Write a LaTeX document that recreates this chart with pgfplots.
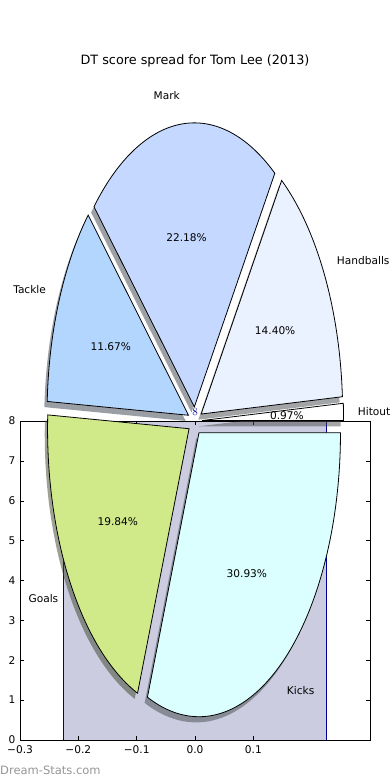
\documentclass[border=0pt]{standalone}
\usepackage{pgfplots}
\pgfplotsset{compat=1.18}
\usepackage{fontspec}
\setmainfont{DejaVu Sans}
\definecolor{cHit}{RGB}{255,255,255}
\definecolor{cHand}{RGB}{235,242,255}
\definecolor{cMark}{RGB}{197,216,255}
\definecolor{cTack}{RGB}{179,214,255}
\definecolor{cGoal}{RGB}{208,234,138}
\definecolor{cKick}{RGB}{219,255,255}
\definecolor{barfill}{RGB}{204,204,225}
\definecolor{baredge}{RGB}{0,0,150}
\definecolor{wm}{RGB}{150,150,150}
% pie data (percent of DT score)
\def\vHit{0.97}\def\vHand{14.40}\def\vMark{22.18}\def\vTack{11.67}\def\vGoal{19.84}\def\vKick{30.93}
\pgfmathsetmacro\tot{\vHit+\vHand+\vMark+\vTack+\vGoal+\vKick}
\pgfmathsetmacro\aA{0}
\pgfmathsetmacro\aB{\aA+360*\vHit/\tot}
\pgfmathsetmacro\aC{\aB+360*\vHand/\tot}
\pgfmathsetmacro\aD{\aC+360*\vMark/\tot}
\pgfmathsetmacro\aE{\aD+360*\vTack/\tot}
\pgfmathsetmacro\aF{\aE+360*\vGoal/\tot}
\pgfmathsetmacro\aG{\aF+360*\vKick/\tot}
\tikzset{pielabel/.style={font=\fontsize{10.6}{12}\selectfont, inner sep=0pt}}
\newcommand\drawshadow[3]{%
 \pgfmathsetmacro\wmid{(#1+#2)/2}%
 \pgfmathsetmacro\wx{0.05*cos(\wmid)-0.02}%
 \pgfmathsetmacro\wy{0.05*sin(\wmid)-0.02}%
 \edef\doit{\noexpand\addplot[draw=none,fill=#3!30!black,fill opacity=0.5,domain=#1:#2,samples=90,variable=\noexpand\t] ({\wx+cos(\noexpand\t)},{\wy+sin(\noexpand\t)}) -- (axis cs:\wx,\wy) -- cycle;}%
 \doit}
\newcommand\drawwedge[3]{%
 \pgfmathsetmacro\wmid{(#1+#2)/2}%
 \pgfmathsetmacro\wx{0.05*cos(\wmid)}%
 \pgfmathsetmacro\wy{0.05*sin(\wmid)}%
 \edef\doit{\noexpand\addplot[draw=black,line width=0.8pt,line join=miter,fill=#3,domain=#1:#2,samples=90,variable=\noexpand\t] ({\wx+cos(\noexpand\t)},{\wy+sin(\noexpand\t)}) -- (axis cs:\wx,\wy) -- cycle;}%
 \doit}
\newcommand\drawlabels[4]{%
 \pgfmathsetmacro\wmid{(#1+#2)/2}%
 \pgfmathsetmacro\lx{1.15*cos(\wmid)}%
 \pgfmathsetmacro\ly{1.15*sin(\wmid)}%
 \pgfmathsetmacro\qx{0.65*cos(\wmid)}%
 \pgfmathsetmacro\qy{0.65*sin(\wmid)}%
 \ifdim\lx pt>0pt \def\lanc{west}\else\def\lanc{east}\fi
 \edef\doit{\noexpand\node[pielabel,anchor=\lanc] at (axis cs:\lx,\ly) {\unexpanded{#3}}; \noexpand\node[pielabel] at (axis cs:\qx,\qy) {\unexpanded{#4}};}%
 \doit}
\pgfplotsset{baraxis/.style={at={(20pt,40pt)}, anchor=south west, scale only axis,
  width=350pt, height=319pt, xmin=-0.3, xmax=0.3, ymin=0, ymax=8}}
\begin{document}
\begin{tikzpicture}
\path[use as bounding box] (0pt,0pt) rectangle (390pt,780pt);
\begin{axis}[baraxis,
  xtick={-0.3,-0.2,-0.1,0,0.1}, xticklabels={−0.3,−0.2,−0.1,0.0,0.1},
  ytick={0,1,2,3,4,5,6,7,8}, yticklabels={0,1,2,3,4,5,6,7,8},
  tick label style={font=\fontsize{10.6}{12}\selectfont},
  xticklabel style={yshift=-2pt}, yticklabel style={xshift=-1pt},
  major tick length=4pt, tick style={black, line width=0.5pt},
  axis line style={line width=0.8pt},
  axis on top]
\addplot[ybar, bar width=0.45, fill=barfill, draw=baredge, line width=0.8pt]
  coordinates {(0,8)};
\end{axis}
\begin{axis}[at={(0pt,0pt)}, anchor=south west, scale only axis,
  width=390pt, height=780pt,
  xmin=-1.37809, xmax=1.37809, ymin=-1.26408, ymax=1.48239,
  hide axis, clip=false]
\drawshadow{\aA}{\aB}{cHit}
\drawshadow{\aB}{\aC}{cHand}
\drawshadow{\aC}{\aD}{cMark}
\drawshadow{\aD}{\aE}{cTack}
\drawshadow{\aE}{\aF}{cGoal}
\drawshadow{\aF}{\aG}{cKick}
\drawwedge{\aA}{\aB}{cHit}
\drawwedge{\aB}{\aC}{cHand}
\drawwedge{\aC}{\aD}{cMark}
\drawwedge{\aD}{\aE}{cTack}
\drawwedge{\aE}{\aF}{cGoal}
\drawwedge{\aF}{\aG}{cKick}
\drawlabels{\aA}{\aB}{Hitout}{0.97\%}
\drawlabels{\aB}{\aC}{Handballs}{14.40\%}
\drawlabels{\aC}{\aD}{Mark}{22.18\%}
\drawlabels{\aD}{\aE}{Tackle}{11.67\%}
\drawlabels{\aE}{\aF}{Goals}{19.84\%}
\drawlabels{\aF}{\aG}{Kicks}{30.93\%}
\end{axis}
\begin{axis}[baraxis, hide axis, clip=false]
\addplot[draw=none, nodes near coords,
  every node near coord/.append style={text=baredge, font=\fontsize{10.6}{12}\selectfont, anchor=south, inner sep=0pt, yshift=5pt}]
  coordinates {(0,8)};
\end{axis}
\node[font=\fontsize{12.8}{15}\selectfont] at (195pt,719pt) {DT score spread for Tom Lee (2013)};
\node[anchor=west, inner sep=0pt, text=wm, font=\fontsize{11.5}{13}\selectfont] at (0pt,10pt) {Dream-Stats.com};
\end{tikzpicture}
\end{document}
